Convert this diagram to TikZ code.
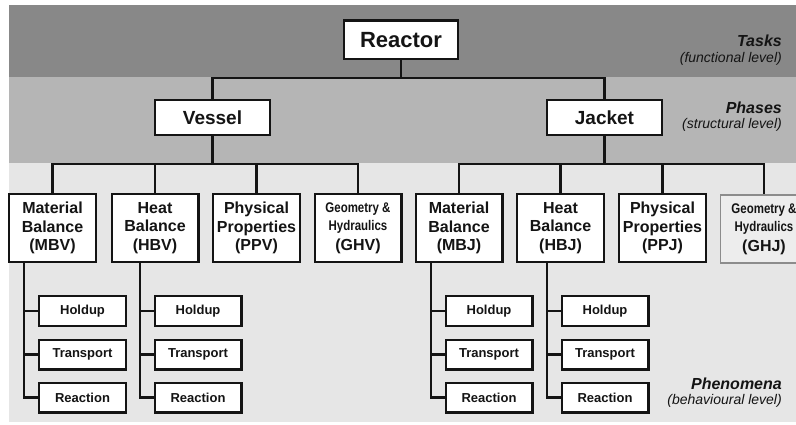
\documentclass[tikz,border=0pt]{standalone}
\usepackage{fontspec}
\setmainfont{Liberation Sans}
\newfontfamily\narrowsans[FakeStretch=0.82]{Liberation Sans}
\definecolor{bandA}{HTML}{888888}
\definecolor{bandB}{HTML}{B5B5B5}
\definecolor{bandC}{HTML}{E6E6E6}
\definecolor{ink}{HTML}{141414}
\definecolor{ghjline}{HTML}{8C8C8C}
\tikzset{
  box/.style={draw=ink, line width=2.4pt, fill=white, inner sep=0pt, align=center, text=ink, font=\bfseries},
  topbox/.style={box, minimum width=113.6pt, minimum height=38.6pt, font=\bfseries\fontsize{22}{26}\selectfont},
  phasebox/.style={box, minimum width=114.6pt, minimum height=34.6pt, font=\bfseries\fontsize{19}{23}\selectfont},
  modbox/.style={box, minimum width=86.6pt, minimum height=67.6pt, font=\bfseries\fontsize{16}{18.5}\selectfont},
  subbox/.style={box, minimum width=86.6pt, minimum height=29.6pt, font=\bfseries\fontsize{13}{16}\selectfont},
  link/.style={draw=ink, line width=2.6pt},
  lvlhead/.style={anchor=base east, inner sep=0pt, text=ink, font=\bfseries\itshape\fontsize{16}{19}\selectfont},
  lvlsub/.style={anchor=base east, inner sep=0pt, text=ink, font=\itshape\fontsize{14}{17}\selectfont}
}
\newcommand{\gname}{{\narrowsans\bfseries\fontsize{14}{17}\selectfont Geometry \&}\\{\narrowsans\bfseries\fontsize{14}{17}\selectfont Hydraulics}}
\begin{document}
\begin{tikzpicture}[x=1pt,y=-1pt]
\useasboundingbox (0,0) rectangle (796,425);
% bands
\fill[bandA] (9,5) rectangle (796,77);
\fill[bandB] (9,77) rectangle (796,163);
\fill[bandC] (9,163) rectangle (796,422);

% level labels
\node[lvlhead] (tasks) at (782,47) {Tasks};
\node[lvlsub] (func) at (782,63) {(functional level)};
\node[lvlhead] (phases) at (782,114) {Phases};
\node[lvlsub] (struct) at (782,129) {(structural level)};
\node[lvlhead] (phen) at (782,389) {Phenomena};
\node[lvlsub] (behav) at (782,404) {(behavioural level)};

% nodes
\node[topbox] (reactor) at (401,40) {Reactor};
\node[phasebox] (vessel) at (212.5,117.5) {Vessel};
\node[phasebox] (jacket) at (604.5,117.5) {Jacket};

\node[modbox] (mbv) at (52.5,228) {Material\\Balance\\(MBV)};
\node[modbox] (hbv) at (155,228) {Heat\\Balance\\(HBV)};
\node[modbox] (ppv) at (256.5,228) {Physical\\Properties\\(PPV)};
\node[modbox] (ghv) at (358,228) {\gname\\[1pt](GHV)};
\node[modbox] (mbj) at (459,228) {Material\\Balance\\(MBJ)};
\node[modbox] (hbj) at (560.5,228) {Heat\\Balance\\(HBJ)};
\node[modbox] (ppj) at (662.5,228) {Physical\\Properties\\(PPJ)};
\node[modbox, draw=ghjline, line width=1.5pt, fill=bandC!70!white] (ghj) at (764,229) {\gname\\[1pt](GHJ)};

\node[subbox] (mbvh) at (82.5,311) {Holdup};
\node[subbox] (mbvt) at (82.5,354.5) {Transport};
\node[subbox] (mbvr) at (82.5,397.5) {Reaction};
\node[subbox] (hbvh) at (198,311) {Holdup};
\node[subbox] (hbvt) at (198,354.5) {Transport};
\node[subbox] (hbvr) at (198,397.5) {Reaction};
\node[subbox] (mbjh) at (489,311) {Holdup};
\node[subbox] (mbjt) at (489,354.5) {Transport};
\node[subbox] (mbjr) at (489,397.5) {Reaction};
\node[subbox] (hbjh) at (605,311) {Holdup};
\node[subbox] (hbjt) at (605,354.5) {Transport};
\node[subbox] (hbjr) at (605,397.5) {Reaction};

% bus coordinates
\coordinate (b1) at (401,78);
\coordinate (bv) at (212.5,164);
\coordinate (bj) at (604.5,164);
\coordinate (tmbv) at (24,263);
\coordinate (thbv) at (140,263);
\coordinate (tmbj) at (431,263);
\coordinate (thbj) at (547,263);

% connectors
\draw[link] (reactor.south) -- (b1);
\draw[link] (vessel.north) |- (b1) -| (jacket.north);
\draw[link] (vessel.south) -- (bv);
\draw[link] (mbv.north) |- (bv) -| (ghv.north);
\draw[link] (hbv.north) -- (hbv.north |- bv);
\draw[link] (ppv.north) -- (ppv.north |- bv);
\draw[link] (jacket.south) -- (bj);
\draw[link] (mbj.north) |- (bj) -| (ghj.north);
\draw[link] (hbj.north) -- (hbj.north |- bj);
\draw[link] (ppj.north) -- (ppj.north |- bj);

\draw[link] (tmbv) |- (mbvr.west);
\draw[link] (mbvh.west) -- (mbvh.west -| tmbv);
\draw[link] (mbvt.west) -- (mbvt.west -| tmbv);
\draw[link] (thbv) |- (hbvr.west);
\draw[link] (hbvh.west) -- (hbvh.west -| thbv);
\draw[link] (hbvt.west) -- (hbvt.west -| thbv);
\draw[link] (tmbj) |- (mbjr.west);
\draw[link] (mbjh.west) -- (mbjh.west -| tmbj);
\draw[link] (mbjt.west) -- (mbjt.west -| tmbj);
\draw[link] (thbj) |- (hbjr.west);
\draw[link] (hbjh.west) -- (hbjh.west -| thbj);
\draw[link] (hbjt.west) -- (hbjt.west -| thbj);
\end{tikzpicture}
\end{document}
